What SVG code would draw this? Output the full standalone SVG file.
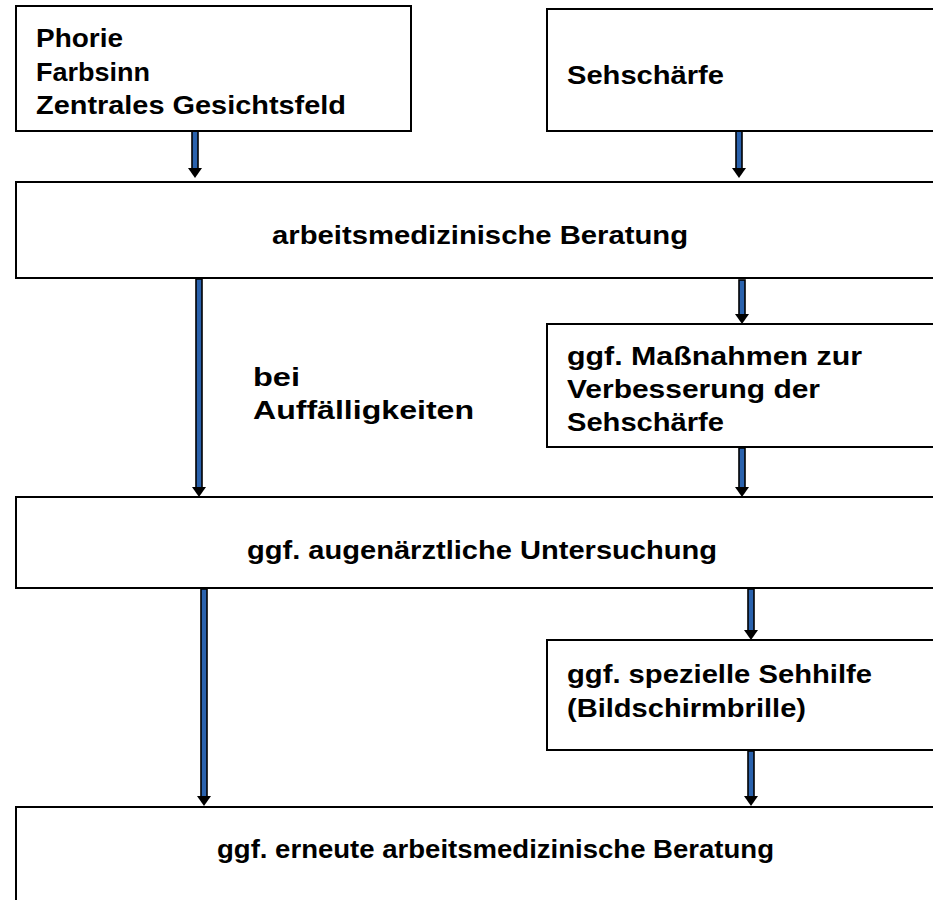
<svg xmlns="http://www.w3.org/2000/svg" width="933" height="900" viewBox="0 0 933 900">
<style>
.box{fill:#fff;stroke:#000;stroke-width:2}
.t{font-family:"Liberation Sans",Arial,sans-serif;font-weight:bold;font-size:25px;fill:#000}
.shaft{fill:#2a62ad;stroke:#000;stroke-width:1.6}
.head{fill:#000}
</style>
<rect width="933" height="900" fill="#fff"/>
<g id="connectors">
<rect class="shaft" x="192" y="131" width="6" height="38"/><polygon class="head" points="188,168 202,168 195,178"/>
<rect class="shaft" x="736" y="131" width="6" height="38"/><polygon class="head" points="732,168 746,168 739,178"/>
<rect class="shaft" x="196" y="279" width="6" height="209"/><polygon class="head" points="192,487 206,487 199,497"/>
<rect class="shaft" x="739" y="280" width="6" height="35"/><polygon class="head" points="735,314 749,314 742,324"/>
<rect class="shaft" x="739" y="448" width="6" height="40"/><polygon class="head" points="735,487 749,487 742,497"/>
<rect class="shaft" x="201" y="589" width="6" height="208"/><polygon class="head" points="197,796 211,796 204,806"/>
<rect class="shaft" x="748" y="589" width="6" height="42"/><polygon class="head" points="744,630 758,630 751,640"/>
<rect class="shaft" x="748" y="751" width="6" height="46"/><polygon class="head" points="744,796 758,796 751,806"/>
</g>
<g id="n1"><rect class="box" x="16" y="6" width="395" height="125"/>
<text class="t" x="36" y="47" textLength="87" lengthAdjust="spacingAndGlyphs">Phorie</text>
<text class="t" x="36" y="81" textLength="114" lengthAdjust="spacingAndGlyphs">Farbsinn</text>
<text class="t" x="36" y="114" textLength="310" lengthAdjust="spacingAndGlyphs">Zentrales Gesichtsfeld</text></g>
<g id="n2"><rect class="box" x="547" y="9" width="400" height="122"/>
<text class="t" x="567" y="84" textLength="157" lengthAdjust="spacingAndGlyphs">Sehschärfe</text></g>
<g id="n3"><rect class="box" x="16" y="182" width="930" height="96"/>
<text class="t" x="272" y="244" textLength="416" lengthAdjust="spacingAndGlyphs">arbeitsmedizinische Beratung</text></g>
<g id="label"><text class="t" x="253" y="386" textLength="47" lengthAdjust="spacingAndGlyphs">bei</text>
<text class="t" x="253" y="419" textLength="221" lengthAdjust="spacingAndGlyphs">Auffälligkeiten</text></g>
<g id="n4"><rect class="box" x="547" y="324" width="400" height="123"/>
<text class="t" x="567" y="365" textLength="295" lengthAdjust="spacingAndGlyphs">ggf. Maßnahmen zur</text>
<text class="t" x="567" y="398" textLength="253" lengthAdjust="spacingAndGlyphs">Verbesserung der</text>
<text class="t" x="567" y="431" textLength="157" lengthAdjust="spacingAndGlyphs">Sehschärfe</text></g>
<g id="n5"><rect class="box" x="16" y="497" width="930" height="91"/>
<text class="t" x="247" y="559" textLength="470" lengthAdjust="spacingAndGlyphs">ggf. augenärztliche Untersuchung</text></g>
<g id="n6"><rect class="box" x="547" y="640" width="400" height="110"/>
<text class="t" x="567" y="683" textLength="305" lengthAdjust="spacingAndGlyphs">ggf. spezielle Sehhilfe</text>
<text class="t" x="567" y="717" textLength="239" lengthAdjust="spacingAndGlyphs">(Bildschirmbrille)</text></g>
<g id="n7"><rect class="box" x="16" y="807" width="930" height="110"/>
<text class="t" x="217" y="858" textLength="557" lengthAdjust="spacingAndGlyphs">ggf. erneute arbeitsmedizinische Beratung</text></g>
</svg>
